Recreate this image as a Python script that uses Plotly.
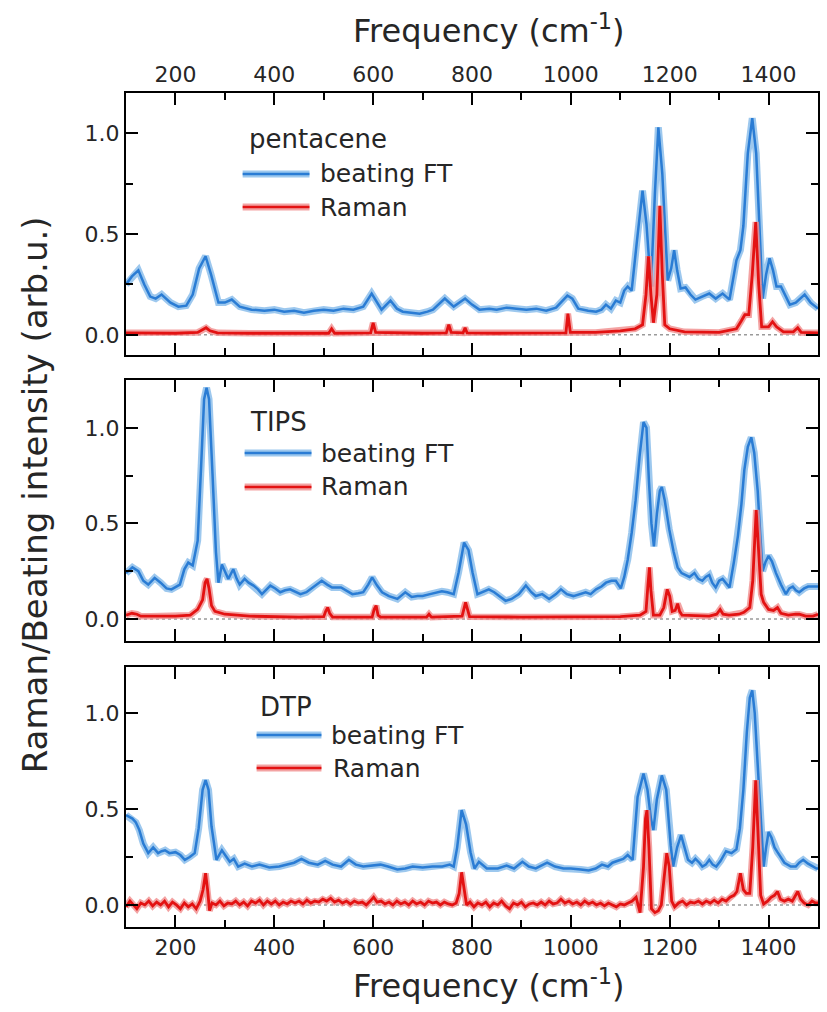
import plotly.graph_objects as go

# ---------------- data (frequency cm^-1, intensity arb.u.) ----------------
pentacene_ft = [
    (100, 0.25), (112, 0.29), (125, 0.32), (137, 0.25), (149, 0.19), (160, 0.18), (172, 0.20),
    (190, 0.16), (206, 0.14), (222, 0.145), (235, 0.20), (248, 0.33), (261, 0.39), (272, 0.30),
    (287, 0.16), (300, 0.16), (314, 0.175), (330, 0.14), (354, 0.125), (380, 0.12), (400, 0.125),
    (420, 0.115), (440, 0.12), (460, 0.11), (480, 0.12), (500, 0.125), (520, 0.12), (540, 0.13),
    (560, 0.125), (580, 0.14), (597, 0.205), (608, 0.16), (617, 0.125), (635, 0.17), (648, 0.13),
    (660, 0.115), (680, 0.11), (694, 0.105), (710, 0.115), (721, 0.125), (745, 0.18), (763, 0.14),
    (786, 0.18), (800, 0.15), (815, 0.125), (835, 0.13), (850, 0.125), (870, 0.135), (890, 0.13),
    (910, 0.125), (930, 0.13), (950, 0.12), (970, 0.135), (985, 0.175), (993, 0.195), (1003, 0.18),
    (1015, 0.13), (1035, 0.12), (1051, 0.115), (1062, 0.125), (1071, 0.15), (1081, 0.13),
    (1091, 0.17), (1100, 0.16), (1108, 0.22), (1115, 0.24), (1123, 0.22), (1133, 0.45),
    (1145, 0.715), (1153, 0.55), (1162, 0.24), (1170, 0.70), (1177, 1.03), (1185, 0.80),
    (1196, 0.27), (1203, 0.33), (1209, 0.42), (1215, 0.32), (1222, 0.23), (1232, 0.235),
    (1242, 0.20), (1252, 0.175), (1265, 0.19), (1280, 0.205), (1293, 0.18), (1307, 0.205),
    (1321, 0.175), (1330, 0.30), (1335, 0.37), (1343, 0.42), (1349, 0.54), (1358, 0.90),
    (1367, 1.075), (1375, 0.90), (1382, 0.55), (1388, 0.18), (1395, 0.30), (1402, 0.38),
    (1409, 0.32), (1416, 0.24), (1425, 0.24), (1433, 0.20), (1443, 0.15), (1455, 0.16),
    (1465, 0.18), (1473, 0.20), (1485, 0.16), (1497, 0.135), (1500, 0.13),
]
pentacene_raman = [
    (100, 0.01), (150, 0.01), (200, 0.008), (245, 0.012), (255, 0.025), (262, 0.035), (270, 0.02),
    (285, 0.01), (350, 0.008), (450, 0.008), (510, 0.008), (516, 0.03), (522, 0.008), (595, 0.01),
    (600, 0.06), (605, 0.012), (700, 0.008), (748, 0.01), (753, 0.05), (758, 0.012), (782, 0.01),
    (786, 0.035), (790, 0.01), (850, 0.008), (950, 0.01), (990, 0.01), (994, 0.105), (999, 0.012),
    (1050, 0.012), (1100, 0.02), (1130, 0.03), (1145, 0.05), (1152, 0.20), (1157, 0.39),
    (1162, 0.20), (1167, 0.06), (1174, 0.20), (1180, 0.64), (1185, 0.30), (1190, 0.05),
    (1200, 0.03), (1230, 0.015), (1300, 0.012), (1335, 0.03), (1345, 0.07), (1352, 0.10),
    (1360, 0.10), (1367, 0.30), (1374, 0.56), (1380, 0.25), (1386, 0.04), (1400, 0.04),
    (1408, 0.065), (1416, 0.04), (1430, 0.015), (1450, 0.015), (1459, 0.035), (1466, 0.012),
    (1500, 0.01),
]
tips_ft = [
    (100, 0.24), (113, 0.27), (125, 0.25), (135, 0.20), (145, 0.18), (158, 0.215), (170, 0.19),
    (182, 0.16), (192, 0.155), (200, 0.165), (209, 0.18), (218, 0.26), (226, 0.295), (235, 0.28),
    (245, 0.41), (252, 0.80), (258, 1.15), (263, 1.21), (268, 1.15), (275, 0.76), (282, 0.35),
    (287, 0.19), (294, 0.285), (300, 0.25), (307, 0.21), (317, 0.26), (324, 0.21), (330, 0.18),
    (340, 0.21), (348, 0.19), (358, 0.175), (367, 0.155), (375, 0.13), (392, 0.175), (402, 0.16),
    (412, 0.14), (422, 0.15), (432, 0.155), (453, 0.13), (465, 0.14), (480, 0.17), (496, 0.20),
    (507, 0.18), (517, 0.165), (535, 0.165), (547, 0.145), (558, 0.13), (570, 0.135), (580, 0.14),
    (590, 0.18), (598, 0.218), (608, 0.175), (618, 0.14), (632, 0.12), (649, 0.105), (665, 0.14),
    (678, 0.115), (690, 0.12), (700, 0.12), (715, 0.13), (739, 0.145), (750, 0.14), (763, 0.13),
    (773, 0.245), (784, 0.40), (793, 0.36), (801, 0.245), (811, 0.13), (822, 0.14), (834, 0.155),
    (845, 0.14), (856, 0.12), (868, 0.095), (880, 0.105), (895, 0.13), (909, 0.175), (920, 0.14),
    (929, 0.12), (942, 0.13), (956, 0.105), (970, 0.13), (980, 0.155), (992, 0.13), (1005, 0.12),
    (1018, 0.13), (1030, 0.14), (1040, 0.13), (1051, 0.155), (1062, 0.17), (1071, 0.19),
    (1082, 0.20), (1091, 0.20), (1101, 0.16), (1108, 0.22), (1115, 0.31), (1123, 0.45),
    (1131, 0.62), (1139, 0.85), (1147, 1.03), (1153, 1.00), (1158, 0.72), (1163, 0.50),
    (1168, 0.38), (1174, 0.55), (1180, 0.67), (1184, 0.69), (1190, 0.62), (1199, 0.47),
    (1208, 0.35), (1216, 0.27), (1224, 0.24), (1232, 0.23), (1240, 0.22), (1250, 0.24),
    (1258, 0.21), (1266, 0.20), (1273, 0.22), (1280, 0.23), (1286, 0.19), (1293, 0.165),
    (1300, 0.20), (1307, 0.21), (1314, 0.19), (1321, 0.165), (1330, 0.30), (1338, 0.435),
    (1345, 0.60), (1351, 0.78), (1358, 0.90), (1365, 0.95), (1371, 0.87), (1378, 0.67),
    (1383, 0.45), (1388, 0.25), (1394, 0.30), (1400, 0.33), (1407, 0.30), (1415, 0.24),
    (1425, 0.18), (1435, 0.13), (1442, 0.16), (1449, 0.17), (1455, 0.15), (1462, 0.14),
    (1472, 0.16), (1480, 0.17), (1490, 0.17), (1500, 0.17),
]
tips_raman = [
    (100, 0.02), (112, 0.03), (122, 0.025), (130, 0.015), (150, 0.015), (200, 0.015), (230, 0.02),
    (245, 0.05), (255, 0.10), (260, 0.19), (264, 0.21), (268, 0.16), (273, 0.07), (280, 0.04),
    (300, 0.025), (350, 0.015), (450, 0.01), (500, 0.012), (504, 0.04), (508, 0.06), (512, 0.03),
    (518, 0.01), (598, 0.01), (602, 0.05), (606, 0.07), (610, 0.02), (615, 0.01), (708, 0.01),
    (713, 0.025), (718, 0.01), (780, 0.015), (784, 0.06), (787, 0.087), (791, 0.05), (795, 0.012),
    (900, 0.01), (1000, 0.01), (1100, 0.012), (1140, 0.02), (1152, 0.04), (1156, 0.18),
    (1159, 0.27), (1162, 0.15), (1167, 0.02), (1180, 0.02), (1188, 0.06), (1195, 0.155),
    (1200, 0.12), (1205, 0.04), (1211, 0.045), (1216, 0.08), (1220, 0.04), (1225, 0.02),
    (1280, 0.015), (1295, 0.025), (1302, 0.05), (1308, 0.025), (1320, 0.02), (1340, 0.025),
    (1350, 0.035), (1362, 0.06), (1368, 0.20), (1375, 0.57), (1380, 0.35), (1385, 0.13),
    (1390, 0.087), (1400, 0.05), (1410, 0.045), (1418, 0.06), (1425, 0.03), (1440, 0.02),
    (1455, 0.025), (1462, 0.025), (1475, 0.015), (1490, 0.015), (1500, 0.025),
]
dtp_ft = [
    (100, 0.468), (113, 0.45), (120, 0.43), (127, 0.39), (135, 0.32), (145, 0.27), (155, 0.30),
    (165, 0.27), (172, 0.28), (179, 0.285), (188, 0.27), (200, 0.275), (210, 0.26), (219, 0.235),
    (229, 0.25), (239, 0.27), (247, 0.40), (255, 0.60), (261, 0.65), (267, 0.60), (273, 0.41),
    (280, 0.28), (283, 0.235), (294, 0.285), (303, 0.25), (310, 0.225), (318, 0.24), (327, 0.20),
    (340, 0.215), (355, 0.20), (370, 0.21), (390, 0.195), (410, 0.20), (425, 0.21), (440, 0.22),
    (455, 0.24), (470, 0.22), (488, 0.21), (503, 0.23), (518, 0.21), (535, 0.20), (551, 0.235),
    (565, 0.21), (580, 0.20), (600, 0.205), (615, 0.21), (630, 0.20), (649, 0.185), (665, 0.19),
    (680, 0.20), (700, 0.195), (720, 0.20), (740, 0.20), (755, 0.21), (763, 0.20), (770, 0.30),
    (779, 0.494), (788, 0.42), (797, 0.275), (805, 0.19), (814, 0.225), (830, 0.19), (852, 0.19),
    (870, 0.205), (885, 0.19), (902, 0.225), (915, 0.20), (929, 0.19), (952, 0.22), (968, 0.20),
    (985, 0.19), (1000, 0.19), (1020, 0.185), (1036, 0.18), (1050, 0.19), (1063, 0.21),
    (1075, 0.20), (1084, 0.22), (1095, 0.23), (1106, 0.24), (1115, 0.26), (1125, 0.235),
    (1130, 0.40), (1135, 0.563), (1147, 0.685), (1155, 0.60), (1162, 0.45), (1167, 0.39),
    (1174, 0.55), (1184, 0.675), (1193, 0.60), (1202, 0.31), (1207, 0.20), (1215, 0.30),
    (1223, 0.364), (1230, 0.30), (1237, 0.235), (1245, 0.22), (1252, 0.24), (1260, 0.22),
    (1266, 0.20), (1273, 0.21), (1280, 0.235), (1287, 0.21), (1294, 0.20), (1303, 0.23),
    (1314, 0.28), (1325, 0.27), (1335, 0.29), (1342, 0.40), (1349, 0.60), (1356, 0.90),
    (1362, 1.08), (1367, 1.118), (1372, 1.00), (1378, 0.73), (1385, 0.40), (1390, 0.20),
    (1395, 0.30), (1400, 0.38), (1406, 0.35), (1412, 0.30), (1418, 0.275), (1425, 0.25),
    (1432, 0.22), (1445, 0.20), (1455, 0.20), (1462, 0.22), (1470, 0.235), (1480, 0.215),
    (1490, 0.20), (1497, 0.19), (1500, 0.19),
]
dtp_raman = [
    (100, -0.01), (108, 0.02), (115, 0.0), (122, -0.02), (130, 0.01), (138, 0.0), (146, 0.02),
    (154, -0.005), (162, 0.015), (170, 0.0), (178, 0.02), (186, -0.01), (194, 0.015), (202, 0.0),
    (210, -0.02), (218, 0.01), (226, -0.01), (234, 0.005), (242, -0.02), (250, 0.02), (256, 0.08),
    (261, 0.165), (265, 0.08), (269, -0.03), (274, 0.01), (282, 0.0), (290, 0.02), (298, -0.005),
    (306, 0.01), (314, 0.005), (322, 0.02), (330, 0.0), (338, 0.015), (346, -0.005), (354, 0.02),
    (362, 0.01), (370, 0.025), (378, 0.0), (386, 0.02), (394, 0.005), (402, 0.02), (410, 0.0),
    (418, 0.015), (426, 0.005), (434, 0.02), (442, 0.01), (450, 0.02), (458, 0.005), (466, 0.025),
    (474, 0.01), (482, 0.02), (490, 0.015), (498, 0.03), (506, 0.02), (514, 0.035), (522, 0.015),
    (530, 0.025), (538, 0.01), (546, 0.02), (554, 0.005), (562, 0.02), (570, 0.01), (578, 0.015),
    (586, 0.0), (594, 0.02), (601, 0.04), (608, 0.015), (616, 0.02), (624, 0.005), (632, 0.015),
    (640, 0.0), (648, 0.02), (656, 0.005), (664, 0.015), (672, 0.0), (680, 0.02), (688, 0.005),
    (696, 0.015), (704, 0.0), (712, 0.02), (720, 0.01), (728, 0.015), (736, 0.0), (744, 0.015),
    (752, 0.005), (760, 0.0), (768, 0.01), (774, 0.06), (779, 0.17), (784, 0.09), (789, 0.0),
    (796, 0.015), (804, -0.01), (812, 0.01), (820, 0.0), (828, 0.015), (836, -0.01), (844, 0.01),
    (852, 0.0), (860, 0.02), (868, -0.005), (876, -0.02), (884, 0.01), (892, 0.0), (900, 0.015),
    (908, -0.01), (916, 0.005), (924, 0.01), (932, 0.0), (940, 0.015), (948, 0.0), (956, 0.02),
    (964, 0.005), (972, 0.01), (980, 0.03), (988, 0.01), (996, 0.02), (1004, 0.005), (1012, 0.015),
    (1020, 0.0), (1028, 0.02), (1036, 0.005), (1044, 0.015), (1052, 0.0), (1060, 0.01),
    (1068, -0.005), (1076, 0.01), (1084, 0.0), (1092, -0.01), (1100, 0.005), (1108, 0.0),
    (1116, 0.01), (1124, 0.02), (1132, 0.04), (1140, -0.04), (1147, 0.20), (1151, 0.45),
    (1154, 0.494), (1158, 0.30), (1163, -0.02), (1170, -0.04), (1177, -0.03), (1183, 0.0),
    (1189, 0.15), (1194, 0.27), (1199, 0.20), (1204, 0.02), (1210, -0.01), (1218, 0.01),
    (1226, 0.02), (1234, 0.0), (1242, 0.015), (1250, 0.01), (1258, 0.02), (1266, 0.005),
    (1274, 0.02), (1282, 0.01), (1290, 0.025), (1298, 0.01), (1306, 0.03), (1314, 0.02),
    (1322, 0.04), (1330, 0.05), (1336, 0.07), (1343, 0.165), (1349, 0.08), (1355, 0.06),
    (1362, 0.06), (1368, 0.30), (1374, 0.65), (1379, 0.35), (1384, 0.05), (1390, 0.005),
    (1398, 0.02), (1405, 0.04), (1412, 0.05), (1418, 0.07), (1424, 0.03), (1432, 0.02),
    (1440, 0.03), (1448, 0.02), (1454, 0.05), (1459, 0.07), (1465, 0.03), (1472, 0.01),
    (1480, 0.0), (1488, 0.02), (1495, 0.01), (1500, 0.01),
]

samples = ["pentacene", "TIPS", "DTP"]
series_names = ["beating FT", "Raman"]
x_range = [100, 1500]
y_ranges = [[-0.1, 1.2], [-0.115, 1.25], [-0.115, 1.24]]
baseline = 0.0
x_title = "Frequency (cm<sup>-1</sup>)"
y_title = "Raman/Beating intensity (arb.u.)"

# ---------------- styling ----------------
FONT = "DejaVu Sans"
TXT = "#262626"
BLUE, BLUE_HALO = "#2a7cd4", "rgba(140,190,235,0.85)"
RED, RED_HALO = "#e31212", "rgba(240,140,140,0.8)"
W, H = 827, 1012
ML, MR, MT, MB = 126, 7, 93, 85
PW, PH = W - ML - MR, H - MT - MB

def px(x):
    return (x - ML) / PW

def py(y):
    return (H - MB - y) / PH

# panel pixel extents (top, bottom)
panel_px = [(93, 355), (380, 641), (667, 927)]

fig = go.Figure()
data_sets = [(pentacene_ft, pentacene_raman), (tips_ft, tips_raman), (dtp_ft, dtp_raman)]
for i, (ft, ram) in enumerate(data_sets):
    xa = "x" if i == 0 else f"x{i+1}"
    ya = "y" if i == 0 else f"y{i+1}"
    for pts, core, halo, cw, hw in [(ft, BLUE, BLUE_HALO, 2.5, 7), (ram, RED, RED_HALO, 2.8, 6.5)]:
        xs = [p[0] for p in pts]
        ys = [p[1] for p in pts]
        fig.add_trace(go.Scatter(x=xs, y=ys, mode="lines", xaxis=xa, yaxis=ya,
                                 line=dict(color=halo, width=hw), hoverinfo="skip", showlegend=False))
        fig.add_trace(go.Scatter(x=xs, y=ys, mode="lines", xaxis=xa, yaxis=ya,
                                 line=dict(color=core, width=cw), showlegend=False))

tickfont = dict(family=FONT, size=22, color=TXT)
xcommon = dict(range=x_range, tick0=200, dtick=200, ticks="inside", ticklen=12, tickwidth=2,
               tickcolor="black", showline=True, linecolor="black", linewidth=2,
               mirror="allticks", showgrid=False, zeroline=False, tickfont=tickfont,
               minor=dict(tick0=100, dtick=100, ticks="inside", ticklen=7, tickwidth=2,
                          tickcolor="black", showgrid=False))
ycommon = dict(tick0=0, dtick=0.5, tickformat=".1f", ticks="inside", ticklen=12, tickwidth=2,
               tickcolor="black", showline=True, linecolor="black", linewidth=2,
               mirror="allticks", showgrid=False, zeroline=False, tickfont=tickfont,
               minor=dict(tick0=0, dtick=0.25, ticks="inside", ticklen=7, tickwidth=2,
                          tickcolor="black", showgrid=False))

layout = dict(width=W, height=H, margin=dict(l=ML, r=MR, t=MT, b=MB),
              plot_bgcolor="white", paper_bgcolor="white", showlegend=False)
for i, (top, bot) in enumerate(panel_px):
    sx = "" if i == 0 else str(i + 1)
    xa = dict(xcommon)
    xa["anchor"] = "y" + sx
    if i == 0:
        xa["side"] = "top"
    else:
        xa["matches"] = "x"
    xa["showticklabels"] = i != 1
    ya = dict(ycommon)
    ya["anchor"] = "x" + sx
    ya["domain"] = [py(bot), py(top)]
    ya["range"] = y_ranges[i]
    layout["xaxis" + sx] = xa
    layout["yaxis" + sx] = ya
fig.update_layout(**layout)

shapes = []
annotations = []
# dotted baseline in each panel
for i in range(3):
    sx = "" if i == 0 else str(i + 1)
    shapes.append(dict(type="line", xref=f"x{sx} domain", x0=0, x1=1, yref=f"y{sx}",
                       y0=baseline, y1=baseline, line=dict(color="#9a9a9a", width=1.5, dash="dot"),
                       layer="below"))

# in-panel legends (pixel layout positions)
legend_pos = [
    # name (x, y), blue line (x0, x1, y), text x, red line y, red text x
    ((247, 139), (243, 310, 174), 319, 207, 319),
    ((248, 422), (245, 312, 453), 320, 487, 320),
    ((258, 707), (257, 322, 735), 330, 768, 332),
]
for i, (npos, bl, tx, ry, rtx) in enumerate(legend_pos):
    annotations.append(dict(text=samples[i], x=px(npos[0]), y=py(npos[1]), xref="paper", yref="paper",
                            xanchor="left", yanchor="middle", showarrow=False,
                            font=dict(family=FONT, size=26, color=TXT)))
    for (ly, lx, col, halo, name) in [(bl[2], tx, BLUE, BLUE_HALO, series_names[0]),
                                      (ry, rtx, RED, RED_HALO, series_names[1])]:
        shapes.append(dict(type="line", xref="paper", yref="paper", x0=px(bl[0]), x1=px(bl[1]),
                           y0=py(ly), y1=py(ly), line=dict(color=halo, width=7)))
        shapes.append(dict(type="line", xref="paper", yref="paper", x0=px(bl[0]), x1=px(bl[1]),
                           y0=py(ly), y1=py(ly), line=dict(color=col, width=2.6)))
        annotations.append(dict(text=name, x=px(lx), y=py(ly), xref="paper", yref="paper",
                                xanchor="left", yanchor="middle", showarrow=False,
                                font=dict(family=FONT, size=25, color=TXT)))

# axis titles
annotations.append(dict(text=x_title, x=px(490), y=py(29), xref="paper", yref="paper",
                        xanchor="center", yanchor="middle", showarrow=False,
                        font=dict(family=FONT, size=32, color=TXT)))
annotations.append(dict(text=x_title, x=px(490), y=py(984), xref="paper", yref="paper",
                        xanchor="center", yanchor="middle", showarrow=False,
                        font=dict(family=FONT, size=32, color=TXT)))
annotations.append(dict(text=y_title, x=px(35), y=py(495), xref="paper", yref="paper",
                        xanchor="center", yanchor="middle", textangle=-90, showarrow=False,
                        font=dict(family=FONT, size=34, color=TXT)))

fig.update_layout(shapes=shapes, annotations=annotations)
fig.write_html("out.html")
